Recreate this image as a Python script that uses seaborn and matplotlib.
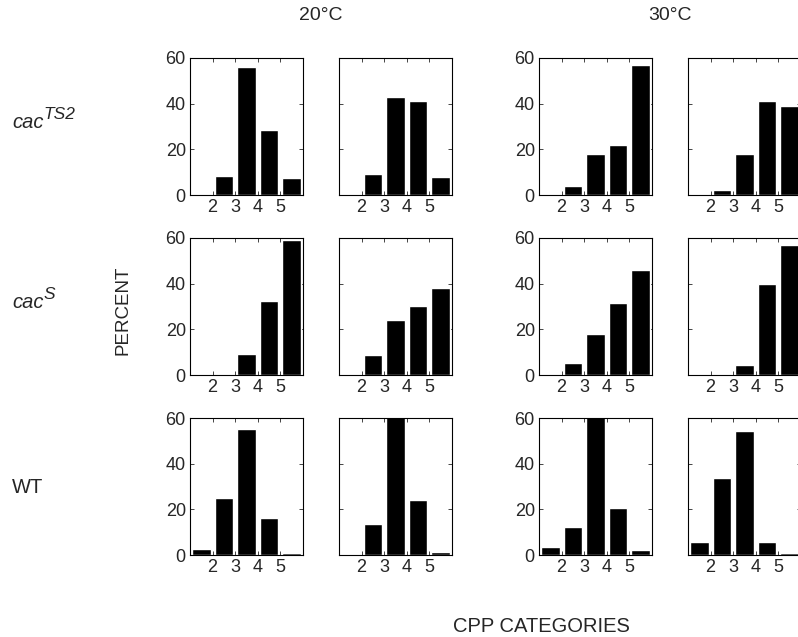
import pandas as pd
import seaborn as sns
import matplotlib.pyplot as plt
import numpy as np

# CPP categories (bar centres sit between the labelled ticks)
categories = [1.5, 2.5, 3.5, 4.5, 5.5]
tick_labels = ['2', '3', '4', '5']
tick_pos = [2, 3, 4, 5]

# percent per category, 20°C (two panels) and 30°C (two panels)
ts2_20_a = [0, 8.5, 56, 28.5, 7.5]
ts2_20_b = [0, 9, 43, 41, 8]
ts2_30_a = [0, 4, 18, 22, 57]
ts2_30_b = [0.3, 2.2, 18, 41, 39]

s_20_a = [0, 0, 9.2, 32.3, 59]
s_20_b = [0, 8.6, 24.3, 30.4, 38]
s_30_a = [0, 5.3, 18, 31.6, 46]
s_30_b = [0, 0, 4.4, 39.7, 57]

wt_20_a = [2.5, 25, 55.3, 16.2, 1]
wt_20_b = [0, 13.5, 62, 24, 1.5]
wt_30_a = [3.4, 12.2, 62, 20.6, 2.2]
wt_30_b = [5.9, 33.8, 54.3, 5.9, 0.7]

rows = [
    [ts2_20_a, ts2_20_b, ts2_30_a, ts2_30_b],
    [s_20_a, s_20_b, s_30_a, s_30_b],
    [wt_20_a, wt_20_b, wt_30_a, wt_30_b],
]
# genotype labels: base text and superscript
row_base = ['cac', 'cac', 'WT']
row_sup = ['TS2', 'S', '']
row_italic = [True, True, False]

sns.set_style('ticks')
plt.rcParams['font.family'] = ['Liberation Sans', 'DejaVu Sans']
plt.rcParams['xtick.direction'] = 'in'
plt.rcParams['ytick.direction'] = 'in'

W, H = 798, 637
fig = plt.figure(figsize=(W / 100, H / 100), dpi=100)

col_left = [190, 339, 539, 688]
row_top = [58, 238, 418]
pw, ph = 113, 137

for r, panels in enumerate(rows):
    for c, vals in enumerate(panels):
        ax = fig.add_axes([col_left[c] / W, 1 - (row_top[r] + ph) / H, pw / W, ph / H])
        df = pd.DataFrame({'cat': categories, 'pct': vals})
        sns.barplot(data=df, x='cat', y='pct', native_scale=True, color='black',
                    saturation=1, width=0.82, ax=ax)
        ax.set_xlim(1, 6)
        ax.set_ylim(0, 60)
        ax.set_xticks(tick_pos)
        ax.set_xticklabels(tick_labels)
        ax.set_yticks([0, 20, 40, 60])
        ax.set_xlabel('')
        ax.set_ylabel('')
        ax.tick_params(axis='both', labelsize=13, length=3, width=0.6,
                       top=True, right=True, pad=3)
        if c in (1, 3):
            ax.set_yticklabels([])
        for sp in ax.spines.values():
            sp.set_visible(True)
            sp.set_linewidth(0.8)
            sp.set_color('black')

fig.text(321 / W, 1 - 15 / H, '20°C', ha='center', va='center', fontsize=14)
fig.text(670 / W, 1 - 15 / H, '30°C', ha='center', va='center', fontsize=14)

base_y = [128, 308, 493]
for base, sup, it, y in zip(row_base, row_sup, row_italic, base_y):
    t = fig.text(12 / W, 1 - y / H, base, ha='left', va='baseline', fontsize=14.5,
                 style='italic' if it else 'normal')
    if sup:
        fig.text(43 / W, 1 - (y - 9) / H, sup, ha='left', va='baseline', fontsize=12.5,
                 style='italic')

fig.text(123 / W, 1 - 310 / H, 'PERCENT', rotation=90, ha='center', va='center', fontsize=13.5)
fig.text(541 / W, 1 - 627 / H, 'CPP CATEGORIES', ha='center', va='center', fontsize=14.5)

fig.savefig('out.png', dpi=100)
